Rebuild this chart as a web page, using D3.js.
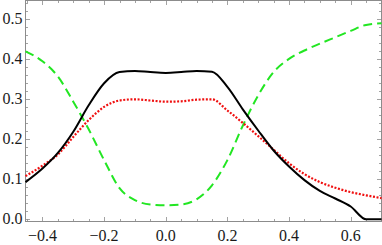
<!DOCTYPE html>
<html>
<head>
<meta charset="utf-8">
<script src="https://cdn.jsdelivr.net/npm/d3@7"></script>
<style>
  html, body { margin: 0; padding: 0; background: #fff; }
  svg { display: block; }
  .tick-label { font-family: "Liberation Serif", "Times New Roman", serif; font-size: 16px; fill: #1a1a1a; }
</style>
</head>
<body>
<div id="chart"></div>
<script>
// sample positions shared by the three curves
const xs = [-0.455, -0.4, -0.35, -0.3, -0.25, -0.2, -0.15, -0.1, -0.05, 0, 0.05, 0.1,
  0.15, 0.2, 0.25, 0.3, 0.35, 0.4, 0.45, 0.5, 0.55, 0.6, 0.65, 0.7];

const blackVals = [0.093, 0.127, 0.166, 0.219, 0.285, 0.34, 0.368, 0.371, 0.368, 0.366, 0.368, 0.371,
  0.369, 0.331, 0.275, 0.222, 0.172, 0.132, 0.098, 0.071, 0.052, 0.032, 0.0, 0.0];

const redVals = [0.108, 0.134, 0.162, 0.206, 0.248, 0.281, 0.297, 0.300, 0.297, 0.294, 0.295, 0.299,
  0.300, 0.272, 0.241, 0.208, 0.174, 0.14, 0.113, 0.093, 0.079, 0.068, 0.06, 0.053];

const greenVals = [0.42, 0.395, 0.357, 0.294, 0.225, 0.148, 0.078, 0.048, 0.037, 0.035, 0.037, 0.05,
  0.085, 0.148, 0.234, 0.31, 0.368, 0.401, 0.422, 0.439, 0.455, 0.471, 0.486, 0.49];

const xMajor = [-0.4, -0.2, 0, 0.2, 0.4, 0.6];
const yMajor = [0, 0.1, 0.2, 0.3, 0.4, 0.5];

const W = 382, H = 245;
const margin = { left: 25.5, right: 381.5, top: 0.5, bottom: 221.5 };

const svg = d3.select('#chart').append('svg')
  .attr('width', W)
  .attr('height', H);

const x = d3.scaleLinear().domain([-0.455, 0.7]).range([margin.left, margin.right]);
const y = d3.scaleLinear().domain([-0.0055, 0.547]).range([margin.bottom, margin.top]);

const frameColor = '#8c8c8c';

// frame
svg.append('rect')
  .attr('x', margin.left).attr('y', margin.top)
  .attr('width', margin.right - margin.left).attr('height', margin.bottom - margin.top)
  .attr('fill', 'none')
  .attr('stroke', frameColor)
  .attr('stroke-width', 1);

// ticks (inside the frame, on all four sides)
const xMinor = d3.range(-0.45, 0.701, 0.05).map(d => +d.toFixed(2)).filter(d => !xMajor.some(m => Math.abs(m - d) < 1e-6));
const yMinor = d3.range(0, 0.541, 0.02).map(d => +d.toFixed(2)).filter(d => !yMajor.some(m => Math.abs(m - d) < 1e-6));

const ticks = svg.append('g').attr('stroke', frameColor).attr('stroke-width', 0.8);

[[xMajor, 4.5], [xMinor, 2.5]].forEach(([vals, len]) => {
  vals.forEach(v => {
    const px = Math.round(x(v)) + 0.5;
    ticks.append('line').attr('x1', px).attr('x2', px).attr('y1', margin.bottom).attr('y2', margin.bottom - len);
    ticks.append('line').attr('x1', px).attr('x2', px).attr('y1', margin.top).attr('y2', margin.top + len);
  });
});

[[yMajor, 4.5], [yMinor, 2.5]].forEach(([vals, len]) => {
  vals.forEach(v => {
    const py = Math.round(y(v)) + 0.5;
    ticks.append('line').attr('y1', py).attr('y2', py).attr('x1', margin.left).attr('x2', margin.left + len);
    ticks.append('line').attr('y1', py).attr('y2', py).attr('x1', margin.right).attr('x2', margin.right - len);
  });
});

// tick labels
svg.selectAll('.xlab')
  .data(xMajor)
  .enter()
  .append('text')
  .attr('class', 'tick-label')
  .attr('x', d => x(d))
  .attr('y', 241)
  .attr('text-anchor', 'middle')
  .text(d => d < 0 ? '\u2212' + Math.abs(d).toFixed(1) : d.toFixed(1));

svg.selectAll('.ylab')
  .data(yMajor)
  .enter()
  .append('text')
  .attr('class', 'tick-label')
  .attr('x', 22.5)
  .attr('y', d => y(d) + 5)
  .attr('text-anchor', 'end')
  .text(d => d.toFixed(1));

// curves
const plot = svg.append('g');

const series = [
  { vals: greenVals, color: '#22e622', dash: '9,5', width: 2 },
  { vals: redVals, color: '#f01010', dash: '2,1.6', width: 2.2 },
  { vals: blackVals, color: '#000', dash: null, width: 2 }
];

const line = d3.line()
  .x(d => x(d[0]))
  .y(d => y(d[1]))
  .curve(d3.curveMonotoneX);

series.forEach(s => {
  plot.append('path')
    .datum(xs.map((v, i) => [v, s.vals[i]]))
    .attr('d', line)
    .attr('fill', 'none')
    .attr('stroke', s.color)
    .attr('stroke-width', s.width)
    .attr('stroke-dasharray', s.dash);
});
</script>
</body>
</html>
